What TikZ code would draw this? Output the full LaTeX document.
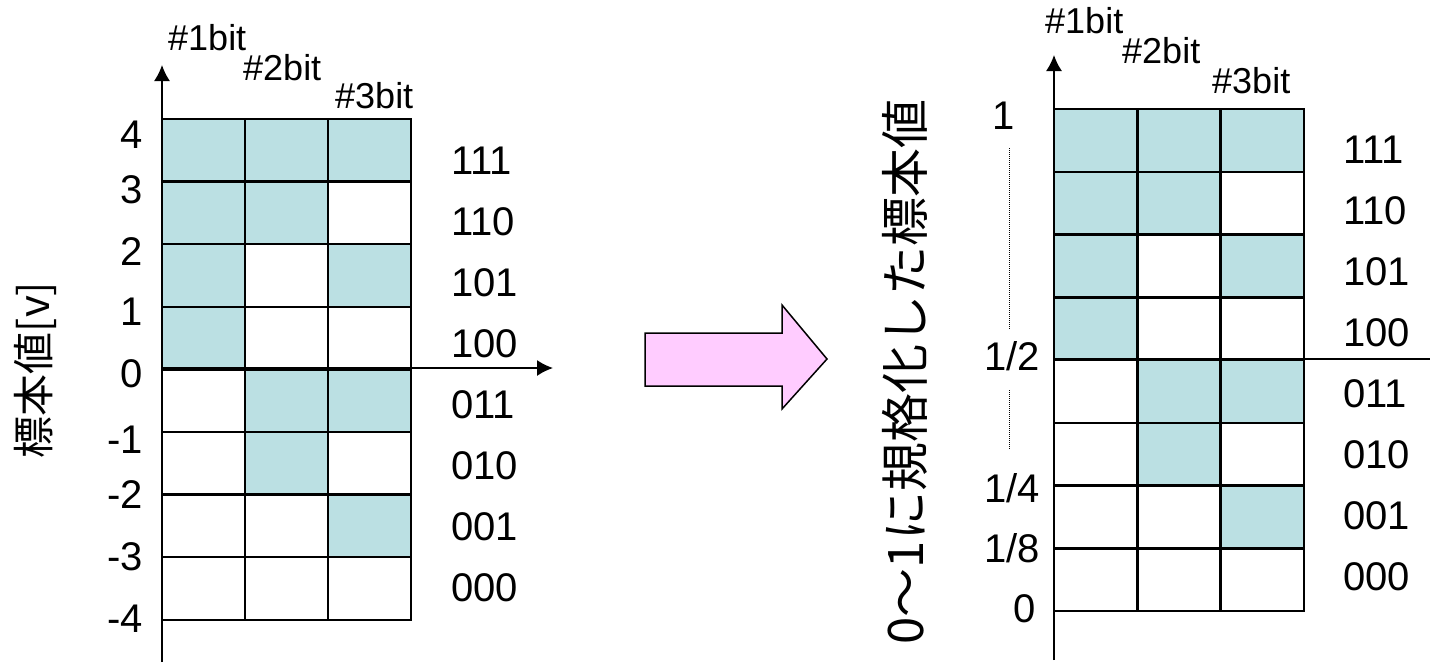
\documentclass[tikz,border=0pt]{standalone}
\usepackage{fontspec}
\setmainfont{Liberation Sans}
\newfontfamily\jp{Noto Sans CJK JP}
\usetikzlibrary{arrows.meta}
\definecolor{cellblue}{RGB}{187,224,227}
\definecolor{arrowpink}{RGB}{255,204,255}
\begin{document}
\begin{tikzpicture}[x=1pt,y=-1pt,
  cell/.style={draw=black,line width=2.5pt,minimum width=83pt,inner sep=0pt,outer sep=0pt,anchor=north west},
  num/.style={font=\fontsize{40}{40}\selectfont,inner sep=0pt},
  hdr/.style={font=\fontsize{36}{36}\selectfont,inner sep=0pt,anchor=base west},
  axis/.style={line width=1.6pt,draw=black},
  axarrow/.style={axis,-{Latex[length=16pt,width=16pt]}},
  vlabelL/.style={font=\jp\fontsize{42}{42}\selectfont,rotate=90,inner sep=0pt},
  vlabelR/.style={font=\jp\fontsize{49}{49}\selectfont,rotate=90,inner sep=0pt},
  guide/.style={line width=1pt,densely dotted}]
\useasboundingbox (0,0) rectangle (1430,667);
% ---------- left grid ----------
\foreach \r in {0,...,7} {
  \foreach \c in {0,1,2} {
    \pgfmathtruncatemacro\v{7-\r}
    \pgfmathtruncatemacro\b{mod(floor(\v/(2^(2-\c))),2)}
    \ifnum\b=1 \def\fc{cellblue}\else\def\fc{white}\fi
    \node[cell,minimum height=62.6pt,fill=\fc] (L\r\c) at ({162+83*\c},{119+62.6*\r}) {};
  }
}
% left axes
\coordinate (LyBot) at (162,662);
\coordinate (LyTop) at (162,65);
\coordinate (LxL) at (162,368);
\coordinate (LxR) at (553,368);
\draw[axarrow] (LyBot) -- (LyTop);
\draw[axarrow] (LxL) -- (LxR);
% left tick labels
\foreach \t/\y [count=\i] in {4/135,3/190,2/252,1/312,0/374,-1/440,-2/495,-3/557,-4/619}
  \node[num,anchor=east] (LT\i) at (143,\y) {\t};
% left row labels
\foreach \t [count=\i from 0] in {111,110,101,100,011,010,001,000}
  \node[num,anchor=west] (LR\i) at (451,{161+61*\i}) {\t};
% left headers
\node[hdr] (LH1) at (168,50) {\#1bit};
\node[hdr] (LH2) at (243,80) {\#2bit};
\node[hdr] (LH3) at (335,108) {\#3bit};
\node[vlabelL] (LV) at (35,370) {標本値[v]};
% ---------- big arrow ----------
\draw[line width=1.5pt,fill=arrowpink,line join=miter]
  (645,333) -- (782,333) -- (782,305) -- (827,359) -- (782,409) -- (782,386) -- (645,386) -- cycle;
% ---------- right grid ----------
\foreach \r in {0,...,7} {
  \foreach \c in {0,1,2} {
    \pgfmathtruncatemacro\v{7-\r}
    \pgfmathtruncatemacro\b{mod(floor(\v/(2^(2-\c))),2)}
    \ifnum\b=1 \def\fc{cellblue}\else\def\fc{white}\fi
    \node[cell,minimum height=62.75pt,minimum width=83.3pt,fill=\fc] (R\r\c) at ({1054+83.3*\c},{109+62.75*\r}) {};
  }
}
\coordinate (RyBot) at (1054,660);
\coordinate (RyTop) at (1054,55);
\coordinate (RxL) at (1054,359);
\coordinate (RxR) at (1430,359);
\draw[axarrow] (RyBot) -- (RyTop);
\draw[axis] (RxL) -- (RxR);
% right tick labels
\node[num,anchor=east] (RT1) at (1015,116) {1};
\node[num,anchor=east] (RT2) at (1040,356) {1/2};
\node[num,anchor=east] (RT3) at (1040,488) {1/4};
\node[num,anchor=east] (RT4) at (1040,548) {1/8};
\node[num,anchor=east] (RT5) at (1036,609) {0};
% dotted guides
\coordinate (G1a) at (1009,148);
\coordinate (G1b) at (1009,330);
\coordinate (G2a) at (1009,390);
\coordinate (G2b) at (1009,450);
\draw[guide] (G1a) -- (G1b);
\draw[guide] (G2a) -- (G2b);
% right row labels
\foreach \t [count=\i from 0] in {111,110,101,100,011,010,001,000}
  \node[num,anchor=west] (RR\i) at (1343,{150+61*\i}) {\t};
% right headers
\node[hdr] (RH1) at (1045,33) {\#1bit};
\node[hdr] (RH2) at (1122,63) {\#2bit};
\node[hdr] (RH3) at (1212,93) {\#3bit};
\node[vlabelR] (RV) at (905,372) {0〜1に規格化した標本値};
\end{tikzpicture}
\end{document}
